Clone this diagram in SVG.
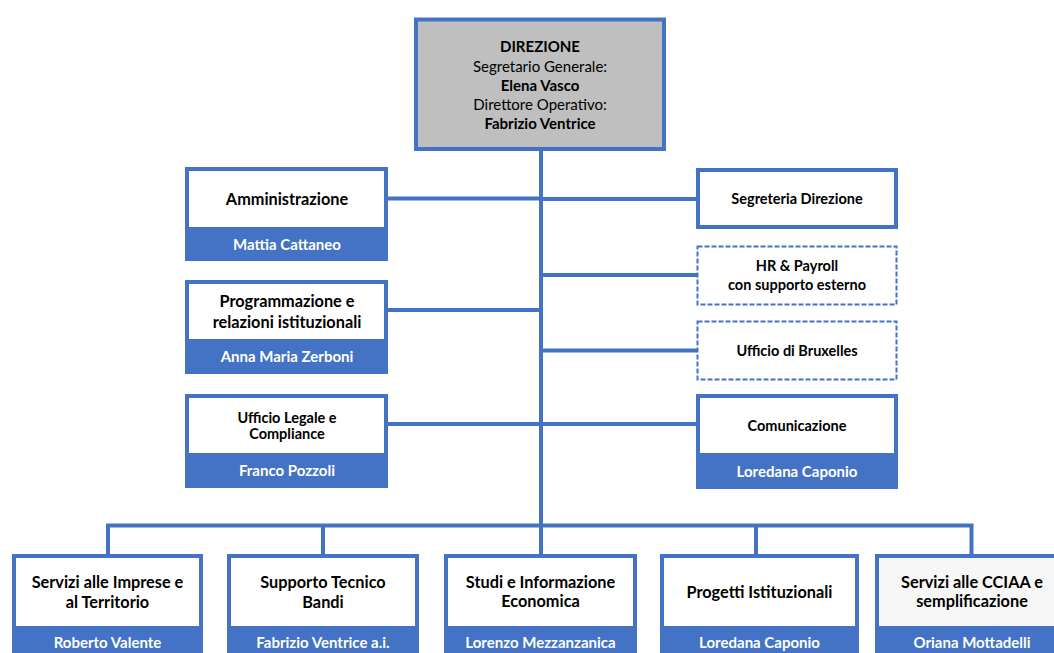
<svg xmlns="http://www.w3.org/2000/svg" width="1054" height="653" viewBox="0 0 1054 653">
<style>
.box{fill:#fff;stroke:#4472C4;stroke-width:4}
.dbox{fill:#fff;stroke:#4472C4;stroke-width:2;stroke-dasharray:5 2}
.band{fill:#4472C4}
.conn{fill:none;stroke:#4472C4;stroke-width:4}
text{font-family:Lato,"Liberation Sans",sans-serif;text-anchor:middle;fill:#000;font-weight:bold}
.t15{font-size:15px}
.t16{font-size:16.3px}
.t13{font-size:14.5px}
.reg{font-weight:normal}
.nm{fill:#fff;font-size:15px}
</style>
<rect width="1054" height="653" fill="#fff"/>
<g id="connectors">
<path class="conn" d="M541 151V527"/>
<path class="conn" d="M388 198.5H541M541 199H696"/>
<path class="conn" d="M541 275H697"/>
<path class="conn" d="M388 310H541"/>
<path class="conn" d="M541 350.5H697"/>
<path class="conn" d="M388 424H696"/>
<path class="conn" d="M108 554V525.5H971.5V554"/>
<path class="conn" d="M323 525.5V554M541 525.5V554M756 525.5V554"/>
</g>
<g id="direzione">
<rect x="416" y="19.5" width="248" height="129.5" fill="#BFBFBF" stroke="#4472C4" stroke-width="4"/>
<text class="t15" x="540" y="52">DIREZIONE</text>
<text class="t15 reg" x="540" y="72">Segretario Generale:</text>
<text class="t15" x="540" y="91">Elena Vasco</text>
<text class="t15 reg" x="540" y="110">Direttore Operativo:</text>
<text class="t15" x="540" y="129">Fabrizio Ventrice</text>
</g>
<g id="amministrazione">
<rect class="box" x="187" y="169" width="199" height="90"/>
<rect class="band" x="185" y="227" width="203" height="34"/>
<text class="t16" x="287" y="205">Amministrazione</text>
<text class="nm" x="287" y="250">Mattia Cattaneo</text>
</g>
<g id="programmazione">
<rect class="box" x="187" y="282" width="199" height="90"/>
<rect class="band" x="185" y="339" width="203" height="35"/>
<text class="t16" x="287" y="307">Programmazione e</text>
<text class="t16" x="287" y="328">relazioni istituzionali</text>
<text class="nm" x="287" y="362">Anna Maria Zerboni</text>
</g>
<g id="legale">
<rect class="box" x="187" y="396" width="199" height="90"/>
<rect class="band" x="185" y="453" width="203" height="35"/>
<text class="t13" x="287" y="423">Ufficio Legale e</text>
<text class="t13" x="287" y="439">Compliance</text>
<text class="nm" x="287" y="476">Franco Pozzoli</text>
</g>
<g id="segreteria">
<rect class="box" x="698" y="170" width="198" height="57"/>
<text class="t13" x="797" y="204">Segreteria Direzione</text>
</g>
<g id="hr">
<rect class="dbox" x="697.5" y="246.5" width="199" height="58"/>
<text class="t13" x="797" y="271">HR &amp; Payroll</text>
<text class="t13" x="797" y="290">con supporto esterno</text>
</g>
<g id="bruxelles">
<rect class="dbox" x="697.5" y="321.5" width="199" height="58"/>
<text class="t13" x="797" y="356">Ufficio di Bruxelles</text>
</g>
<g id="comunicazione">
<rect class="box" x="698" y="396" width="198" height="91"/>
<rect class="band" x="696" y="453" width="202" height="36"/>
<text class="t13" x="797" y="431">Comunicazione</text>
<text class="nm" x="797" y="477">Loredana Caponio</text>
</g>
<g id="servizi-imprese">
<rect class="box" x="14" y="556" width="187" height="110"/>
<rect class="band" x="12" y="626" width="191" height="30"/>
<text class="t16" x="107.5" y="588">Servizi alle Imprese e</text>
<text class="t16" x="107.5" y="608">al Territorio</text>
<text class="nm" x="107.5" y="648">Roberto Valente</text>
</g>
<g id="supporto-tecnico">
<rect class="box" x="229" y="556" width="188" height="110"/>
<rect class="band" x="227" y="626" width="192" height="30"/>
<text class="t16" x="323" y="588">Supporto Tecnico</text>
<text class="t16" x="323" y="608">Bandi</text>
<text class="nm" x="323" y="648">Fabrizio Ventrice a.i.</text>
</g>
<g id="studi">
<rect class="box" x="446" y="556" width="189" height="110"/>
<rect class="band" x="444" y="626" width="193" height="30"/>
<text class="t16" x="540.5" y="588">Studi e Informazione</text>
<text class="t16" x="540.5" y="607">Economica</text>
<text class="nm" x="540.5" y="648">Lorenzo Mezzanzanica</text>
</g>
<g id="progetti">
<rect class="box" x="662" y="556" width="195" height="110"/>
<rect class="band" x="660" y="626" width="199" height="30"/>
<text class="t16" x="759.5" y="598">Progetti Istituzionali</text>
<text class="nm" x="759.5" y="648">Loredana Caponio</text>
</g>
<g id="servizi-cciaa">
<rect class="box" x="877" y="556" width="190" height="110" style="fill:#F7F7F7"/>
<rect class="band" x="875" y="626" width="194" height="30"/>
<text class="t16" x="972" y="588">Servizi alle CCIAA e</text>
<text class="t16" x="972" y="607">semplificazione</text>
<text class="nm" x="972" y="648">Oriana Mottadelli</text>
</g>
</svg>
